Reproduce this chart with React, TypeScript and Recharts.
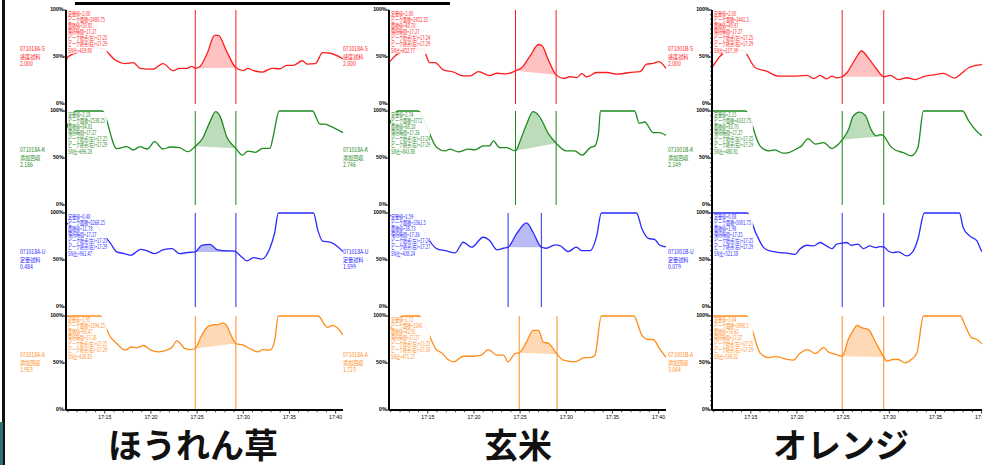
import React from 'react';
import { ComposedChart, Line, Area, XAxis, YAxis, ReferenceLine } from 'recharts';

// x ticks (minutes after 17:00) and their labels, only drawn under the last row
const xTickMinutes = [15, 20, 25, 30, 35, 40];
const xTickLabels = ['17:15', '17:20', '17:25', '17:30', '17:35', '17:40'];
const xMinorMinutes = Array.from({ length: 30 }, (_, i) => 11 + i);
const yTickValues = [0, 50, 100];
const yTickLabels = ['0%', '50%', '100%'];
const groupTitles = ['ほうれん草', '玄米', 'オレンジ'];

// ---- ほうれん草 : [minute, %] ----
const spinachS: [number, number][] = [[10.8, 45], [11.0, 50], [12.5, 56], [14.0, 60], [14.8, 59], [16.1, 47], [17.2, 43], [18.1, 44], [18.8, 38], [20.2, 37], [21.3, 43], [22.4, 35.5], [23.1, 38], [23.9, 38], [24.4, 40], [24.8, 38], [25.3, 40], [26.1, 54], [26.9, 73], [27.3, 73], [28.2, 56], [29.2, 38.5], [30.0, 35.5], [30.5, 38], [31.1, 35.5], [32.1, 34], [33.1, 38], [34.0, 37.5], [34.7, 41], [35.4, 41], [36.4, 46], [36.9, 42.5], [37.8, 43], [38.6, 54.6], [39.4, 54], [40.8, 48]];
const spinachK: [number, number][] = [[10.8, 80], [11.9, 100], [14.7, 100], [16.3, 60], [17.4, 62], [18.1, 58.5], [18.8, 62], [19.6, 59.6], [20.4, 67.4], [21.3, 59.6], [22.1, 61.7], [23.1, 61], [24.0, 56.7], [24.8, 62.4], [25.6, 71], [26.4, 88.7], [27.0, 99.3], [27.5, 94], [28.2, 72.7], [29.2, 60.3], [29.9, 53], [30.5, 57.4], [31.3, 56], [32.1, 60.3], [32.9, 60.3], [33.2, 71], [33.9, 100], [37.5, 100], [38.3, 86], [38.8, 86], [39.4, 84], [40.8, 77]];
const spinachU: [number, number][] = [[10.8, 88], [12.5, 92], [14.0, 88], [14.5, 81], [15.6, 68], [16.3, 58.6], [17.0, 57], [17.8, 55], [18.9, 61.4], [19.6, 59.6], [20.4, 56.8], [21.3, 60.7], [22.3, 62], [23.1, 56.8], [24.0, 58], [24.8, 58.6], [25.5, 65.6], [26.4, 66.7], [27.2, 60.7], [27.8, 60], [28.8, 59.6], [29.2, 58.6], [29.9, 52.6], [30.4, 49], [31.1, 52.6], [32.0, 51], [32.9, 63], [33.4, 79], [33.8, 100], [37.6, 100], [38.1, 80.7], [38.6, 70], [39.4, 69], [40.8, 59]];
const spinachA: [number, number][] = [[10.8, 100], [14.5, 100], [15.6, 77.7], [16.3, 70.7], [17.2, 63.6], [17.9, 67], [18.5, 66.4], [19.2, 68.6], [19.9, 64.3], [20.8, 61.8], [21.7, 63.6], [22.3, 67], [22.8, 73.5], [23.7, 65.4], [24.4, 64.3], [24.8, 65.4], [25.5, 79.5], [26.2, 89], [26.9, 90.8], [27.3, 90.8], [27.8, 92.6], [28.2, 90], [28.6, 81.3], [29.2, 70.7], [30.0, 69], [30.7, 65.4], [31.6, 61.8], [32.1, 64.3], [32.9, 63.6], [33.4, 74], [33.8, 100], [38.1, 100], [39.1, 88], [39.7, 90], [40.8, 80]];

// ---- 玄米 ----
const riceS: [number, number][] = [[10.8, 44], [11.45, 51], [12.8, 58], [14.5, 58.6], [15.2, 44], [15.8, 44], [16.7, 36], [17.8, 34], [18.8, 29.9], [19.6, 29.9], [20.5, 34.5], [21.7, 30.2], [22.5, 32.7], [23.5, 32], [24.5, 35.3], [25.2, 38.8], [26.1, 51.4], [27.0, 63.3], [27.35, 62.2], [28.1, 46], [28.9, 31], [29.7, 27.3], [30.4, 29], [31.1, 28], [31.7, 32.4], [32.2, 28.8], [33.3, 33.5], [34.4, 33.5], [35.5, 31.7], [36.9, 33.5], [38.0, 34.5], [38.7, 42.4], [39.4, 43.2], [40.0, 45], [40.8, 38]];
const riceK: [number, number][] = [[10.8, 85], [11.8, 100], [13.9, 100], [16.0, 61], [16.9, 57.6], [17.4, 59.4], [18.3, 56.5], [19.4, 59.4], [20.1, 58.7], [21.0, 62.9], [21.7, 62.9], [22.1, 68.2], [22.8, 61], [23.5, 61], [24.5, 57.6], [25.0, 68.2], [25.7, 85.9], [26.4, 99.3], [27.0, 95.4], [28.1, 75.3], [28.9, 65.7], [30.0, 57.6], [30.9, 57.6], [31.7, 53], [32.6, 61], [33.1, 62.9], [33.5, 77], [33.7, 100], [37.4, 100], [37.9, 86.9], [38.5, 88.3], [39.4, 77], [40.1, 77], [40.8, 74]];
const riceU: [number, number][] = [[10.8, 97], [13.1, 97], [16.0, 61.8], [16.9, 60], [17.95, 57.6], [18.85, 68.9], [19.75, 63.6], [21.0, 74.2], [21.7, 70.7], [22.5, 60.8], [23.2, 62.5], [23.7, 63.6], [24.6, 77.7], [25.7, 89.4], [26.4, 79.5], [27.3, 63.6], [27.8, 62.5], [28.8, 66], [29.3, 65.4], [30.2, 59], [31.1, 63.6], [31.7, 60], [32.6, 60], [33.3, 76], [33.8, 100], [37.6, 100], [38.2, 83], [38.9, 73], [39.6, 71.7], [40.1, 66], [40.8, 64]];
const riceA: [number, number][] = [[10.8, 85], [12.4, 100], [14.0, 100], [16.0, 63.6], [16.5, 60.8], [17.2, 53.7], [17.8, 51.2], [18.85, 57.2], [19.9, 57.2], [20.8, 58.3], [21.55, 64.3], [22.5, 58.3], [23.2, 58.3], [23.7, 51.2], [24.45, 60], [24.9, 60.8], [25.7, 72.4], [26.4, 84.8], [27.0, 84.8], [27.5, 72.4], [28.1, 70.7], [29.0, 59.4], [29.7, 53], [30.9, 51.2], [32.0, 55.8], [32.6, 55.8], [33.1, 58.3], [33.8, 100], [37.3, 100], [38.2, 79.5], [38.9, 75], [39.4, 75], [40.1, 65.4], [40.8, 56]];

// ---- オレンジ ----
const orangeS: [number, number][] = [[10.8, 38.6], [11.7, 51], [13.0, 58], [14.2, 56.4], [15.5, 38.6], [16.7, 35], [18.0, 29.6], [19.6, 29.6], [21.1, 30.4], [21.8, 27], [22.5, 30.4], [23.2, 26.8], [23.8, 29.6], [24.3, 27.9], [24.9, 29], [25.4, 33.2], [26.3, 47.5], [27.0, 56.4], [27.7, 49.3], [28.6, 37.5], [29.4, 29], [30.1, 30.4], [31.0, 26], [31.9, 27.9], [32.8, 26], [33.7, 29], [34.8, 31], [35.85, 32.5], [37.1, 27.5], [37.7, 31.4], [38.6, 38.6], [40.0, 42], [40.8, 43]];
const orangeK: [number, number][] = [[10.8, 100], [14.4, 100], [16.0, 62.9], [16.9, 57.6], [17.6, 58.7], [18.5, 55.1], [19.1, 55.8], [20.0, 60], [20.5, 62.9], [21.2, 70.7], [22.0, 64.7], [22.9, 66.4], [23.8, 60], [24.3, 62.9], [24.9, 69.3], [25.6, 80.6], [26.1, 94.7], [26.8, 98.9], [27.4, 95.4], [28.1, 78.8], [28.6, 73.5], [29.0, 74.9], [29.4, 73.5], [30.1, 62.9], [30.6, 58.7], [31.5, 55.8], [32.4, 52.3], [33.1, 61.1], [33.7, 100], [37.95, 100], [38.6, 89.4], [40.0, 74], [40.8, 72]];
const orangeU: [number, number][] = [[10.8, 100], [14.6, 100], [15.6, 77.5], [16.4, 63.2], [17.1, 59.6], [18.2, 57.9], [19.1, 57.1], [19.8, 56], [20.3, 61.4], [21.1, 65.7], [21.8, 65], [22.5, 68.6], [23.2, 65], [23.8, 62.1], [24.3, 66.8], [24.9, 67.9], [25.4, 68.6], [25.9, 65.7], [26.6, 66.8], [27.2, 62.1], [27.9, 65], [28.5, 63.2], [29.0, 64.3], [29.4, 63.9], [29.9, 59.6], [30.4, 57.9], [31.0, 58.6], [31.9, 54.3], [32.6, 59.6], [33.1, 72.1], [33.8, 100], [37.6, 100], [38.0, 84.6], [38.7, 75.7], [39.5, 70.4], [40.0, 59.6], [40.8, 55]];
const orangeA: [number, number][] = [[10.8, 100], [14.5, 100], [16.0, 60.8], [16.9, 55.8], [17.45, 56.5], [18.0, 56.5], [18.5, 54.8], [19.6, 53], [20.3, 60], [21.1, 64.3], [22.0, 60], [22.9, 66.4], [23.4, 61.8], [24.1, 59.4], [24.9, 57.2], [25.6, 76], [26.1, 84.8], [26.5, 90.1], [27.0, 87.6], [27.75, 85.5], [28.5, 72.4], [29.4, 56.5], [29.7, 51.9], [30.4, 53.7], [31.0, 53.7], [31.7, 50.2], [32.4, 53.7], [33.0, 60.8], [33.7, 100], [37.7, 100], [38.2, 90.1], [38.9, 77], [39.5, 75], [40.0, 70.7], [40.8, 67]];

// peak start / end (minutes) per row
const spinachPeaks = [[24.8, 29.2], [24.8, 29.2], [24.8, 29.2], [24.8, 29.2]];
const ricePeaks = [[24.5, 28.9], [24.5, 28.9], [23.7, 27.3], [24.9, 29.0]];
const orangePeaks = [[24.9, 29.4], [24.9, 29.4], [24.9, 29.4], [24.9, 29.4]];

const spinachSide = [['071018A-S', '感度試料', '2.000'], ['071018A-K', '添加回収', '2.186'], ['071018A-U', '定量試料', '0.484'], ['071018A-A', '添加回収', '1.953']];
const riceSide = [['071018A-S', '感度試料', '2.000'], ['071018A-K', '添加回収', '2.746'], ['071018A-U', '定量試料', '1.599'], ['071018A-A', '添加回収', '1.723']];
const orangeSide = [['071001B-S', '感度試料', '2.000'], ['071001B-K', '添加回収', '2.149'], ['071001B-U', '定量試料', '0.079'], ['071001B-A', '添加回収', '3.044']];

const spinachNotes = [
    ['定量値=2.00', 'ピーク面積=2480.75', '面積値=50.85', '保持時間=17:27', 'ピーク始点(左)=17:25', 'ピーク終点(右)=17:29', 'SN比=419.80'],
    ['定量値=2.18', 'ピーク面積=2538.25', '面積値=84.81', '保持時間=17:27', 'ピーク始点(左)=17:25', 'ピーク終点(右)=17:29', 'SN比=696.28'],
    ['定量値=0.48', 'ピーク面積=2268.25', '面積値=11.78', '保持時間=17:27', 'ピーク始点(左)=17:25', 'ピーク終点(右)=17:29', 'SN比=961.47'],
    ['定量値=1.95', 'ピーク面積=3194.25', '面積値=90.47', '保持時間=17:28', 'ピーク始点(左)=17:25', 'ピーク終点(右)=17:29', 'SN比=638.83'],
];
const riceNotes = [
    ['定量値=2.00', 'ピーク面積=2452.25', '面積値=48.70', '保持時間=17:27', 'ピーク始点(左)=17:24', 'ピーク終点(右)=17:29', 'SN比=652.77'],
    ['定量値=2.74', 'ピーク面積=3772', '面積値=68.20', '保持時間=17:26', 'ピーク始点(左)=17:24', 'ピーク終点(右)=17:29', 'SN比=843.88'],
    ['定量値=1.59', 'ピーク面積=3361.5', '面積値=38.73', '保持時間=17:26', 'ピーク始点(左)=17:24', 'ピーク終点(右)=17:27', 'SN比=438.24'],
    ['定量値=1.72', 'ピーク面積=3240', '面積値=42.92', '保持時間=17:27', 'ピーク始点(左)=17:25', 'ピーク終点(右)=17:30', 'SN比=471.27'],
];
const orangeNotes = [
    ['定量値=2.00', 'ピーク面積=2441.5', '面積値=49.97', '保持時間=17:27', 'ピーク始点(左)=17:25', 'ピーク終点(右)=17:29', 'SN比=117.39'],
    ['定量値=2.15', 'ピーク面積=4333.75', '面積値=83.70', '保持時間=17:27', 'ピーク始点(左)=17:25', 'ピーク終点(右)=17:29', 'SN比=480.81'],
    ['定量値=0.08', 'ピーク面積=5001.75', '面積値=1.98', '保持時間=17:25', 'ピーク始点(左)=17:25', 'ピーク終点(右)=17:29', 'SN比=521.58'],
    ['定量値=3.04', 'ピーク面積=3890.5', '面積値=76.63', '保持時間=17:27', 'ピーク始点(左)=17:25', 'ピーク終点(右)=17:29', 'SN比=548.82'],
];

const columns = [
    { curves: [spinachS, spinachK, spinachU, spinachA], peaks: spinachPeaks, side: spinachSide, notes: spinachNotes },
    { curves: [riceS, riceK, riceU, riceA], peaks: ricePeaks, side: riceSide, notes: riceNotes },
    { curves: [orangeS, orangeK, orangeU, orangeA], peaks: orangePeaks, side: orangeSide, notes: orangeNotes },
];

// layout
const COL_X = [66, 389, 712];
const SIDE_X = [20, 343, 668];
const TITLE_X = [193, 518, 841];
const ROW_TOP = [10, 111, 213, 316];
const PLOT_W = 277;
const PLOT_H = 94;
const AXIS_W = 24;
const lineColors = ['#ff1c1c', '#1f8a1f', '#2a2aff', '#ff8c1a'];
const fillColors = ['#ffc2c2', '#bcdcbc', '#babaf4', '#ffd9b6'];
const smallFont = '"Noto Sans CJK JP", sans-serif';

const buildRows = (curve: [number, number][], peak: number[]) =>
    curve.map(([t, v]) => ({
        t,
        v,
        peak: t >= peak[0] && t <= peak[1] ? v : null,
        base: t === peak[0] || t === peak[1] ? v : null,
    }));

const YTick = (props: any) => {
    const { x, y, payload, minor } = props;
    const i = yTickValues.indexOf(payload.value);
    if (i < 0) {
        return minor ? <line x1={x - 2} x2={x} y1={y} y2={y} stroke="#000" strokeWidth={0.7} /> : <g />;
    }
    return (
        <g>
            <line x1={x - 3} x2={x} y1={y} y2={y} stroke="#000" strokeWidth={0.9} />
            <text x={x - 2.5} y={y + 1.2} textAnchor="end" fontSize={5.2} fontWeight={700} fontFamily="Arial, sans-serif" fill="#000">
                {yTickLabels[i]}
            </text>
        </g>
    );
};

const XTick = (props: any) => {
    const { x, y, payload } = props;
    const i = xTickMinutes.indexOf(payload.value);
    return (
        <g>
            <line x1={x} x2={x} y1={y} y2={y + (i >= 0 ? 3.5 : 2.2)} stroke="#000" strokeWidth={0.8} />
            {i >= 0 && (
                <text x={x} y={y + 9} textAnchor="middle" fontSize={5.2} fontFamily="Arial, sans-serif" fill="#000">
                    {xTickLabels[i]}
                </text>
            )}
        </g>
    );
};

const Cell: React.FC<{ col: number; row: number }> = ({ col, row }) => {
    const c = columns[col];
    const data = buildRows(c.curves[row], c.peaks[row]);
    const last = row === 3;
    const color = lineColors[row];
    const yTicks = col === 2 ? Array.from({ length: 21 }, (_, i) => i * 5) : yTickValues;
    return (
        <div style={{ position: 'absolute', left: COL_X[col] - AXIS_W, top: ROW_TOP[row] - 4 }}>
            <ComposedChart
                width={AXIS_W + PLOT_W}
                height={PLOT_H + 4 + (last ? 14 : 4)}
                data={data}
                margin={{ top: 4, right: 0, bottom: last ? 0 : 4, left: 0 }}
            >
                <XAxis
                    dataKey="t"
                    type="number"
                    domain={[10.8, 40.8]}
                    allowDataOverflow
                    hide={!last}
                    ticks={xMinorMinutes}
                    interval={0}
                    height={14}
                    tickSize={0}
                    tickMargin={0}
                    tickLine={false}
                    axisLine={{ stroke: '#000', strokeWidth: 2 }}
                    tick={<XTick />}
                />
                <YAxis
                    type="number"
                    domain={[0, 100]}
                    ticks={yTicks}
                    interval={0}
                    width={AXIS_W}
                    tickSize={0}
                    tickMargin={0}
                    tickLine={false}
                    axisLine={false}
                    tick={<YTick minor={col === 2} />}
                />
                <Area dataKey="peak" type="monotone" stroke="none" fill={fillColors[row]} fillOpacity={1} isAnimationActive={false} />
                <Area dataKey="base" type="linear" stroke="none" fill="#fff" fillOpacity={1} connectNulls isAnimationActive={false} />
                <Line dataKey="v" type="monotone" stroke={color} strokeWidth={1.3} dot={false} activeDot={false} isAnimationActive={false} />
                <ReferenceLine x={c.peaks[row][0]} stroke={color} strokeWidth={1} />
                <ReferenceLine x={c.peaks[row][1]} stroke={color} strokeWidth={1} />
            </ComposedChart>
            <div
                style={{
                    position: 'absolute',
                    left: AXIS_W + 2,
                    top: 5,
                    background: 'rgba(255,255,255,0.92)',
                    color,
                    fontFamily: smallFont,
                    fontSize: 5.6,
                    lineHeight: '6.1px',
                    whiteSpace: 'nowrap',
                    transform: 'scaleX(0.72)',
                    transformOrigin: 'left top',
                }}
            >
                {c.notes[row].map((s, i) => (
                    <div key={i}>{s}</div>
                ))}
            </div>
        </div>
    );
};

export default function App() {
    return (
        <div style={{ position: 'absolute', left: 0, top: 0, width: 982, height: 465, overflow: 'hidden', background: '#fff' }}>
            <div style={{ position: 'absolute', left: 2, top: 0, width: 3, height: 465, background: '#111' }} />
            <div style={{ position: 'absolute', left: 0, top: 422, width: 3, height: 43, background: '#2f6f78' }} />
            <div style={{ position: 'absolute', left: 75, top: 2, width: 375, height: 3, background: '#000' }} />

            {columns.map((c, col) =>
                ROW_TOP.map((_, row) => <Cell key={`${col}-${row}`} col={col} row={row} />)
            )}

            {COL_X.map((x, col) => (
                <div key={`ax${col}`} style={{ position: 'absolute', left: x - 1, top: ROW_TOP[0], width: 2, height: 400, background: '#000' }} />
            ))}

            {columns.map((c, col) =>
                c.side.map((lines, row) => (
                    <div
                        key={`side${col}-${row}`}
                        style={{
                            position: 'absolute',
                            left: SIDE_X[col],
                            top: ROW_TOP[row] + 35,
                            color: lineColors[row],
                            fontFamily: smallFont,
                            fontSize: 6,
                            lineHeight: '7.6px',
                            whiteSpace: 'nowrap',
                            transform: 'scaleX(0.85)',
                            transformOrigin: 'left top',
                        }}
                    >
                        {lines.map((s, i) => (
                            <div key={i}>{s}</div>
                        ))}
                    </div>
                ))
            )}

            {groupTitles.map((t, i) => (
                <div
                    key={t}
                    style={{
                        position: 'absolute',
                        left: TITLE_X[i] - 150,
                        width: 300,
                        top: 427,
                        textAlign: 'center',
                        fontFamily: '"Noto Sans CJK JP", sans-serif',
                        fontWeight: 700,
                        fontSize: 34,
                        lineHeight: '34px',
                        color: '#111',
                    }}
                >
                    {t}
                </div>
            ))}
        </div>
    );
}
